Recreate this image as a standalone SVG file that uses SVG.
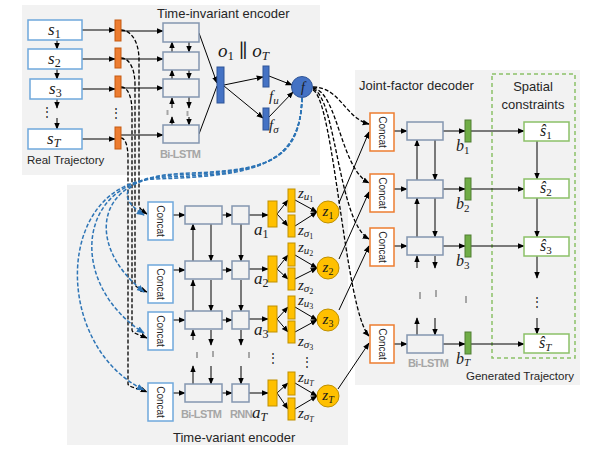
<svg xmlns="http://www.w3.org/2000/svg" width="598" height="460" viewBox="0 0 598 460">
<defs>
<style>
.panel{fill:#F2F2F2}
.t{font-family:"Liberation Sans",Arial,sans-serif;fill:#262626}
.m{font-family:"Liberation Serif","DejaVu Serif",serif;font-style:italic;fill:#1a1a1a}
.n{font-style:normal}
.lbl{font-family:"Liberation Sans",Arial,sans-serif;font-weight:bold;fill:#A6A6A6;font-size:11px;letter-spacing:-0.6px}
.sbox{fill:#fff;stroke:#6FA8DC;stroke-width:1.5}
.lstm{fill:#F2F2F2;stroke:#8496B0;stroke-width:1.5}
.cb{fill:#fff;stroke:#6FA8DC;stroke-width:1.5}
.co{fill:#fff;stroke:#ED7D31;stroke-width:1.5}
.ob{fill:#ED7D31;stroke:#C55A11}
.bb{fill:#4472C4;stroke:#2F5597}
.yb{fill:#FFC000;stroke:#BF9000}
.gb{fill:#70AD47;stroke:#507E32}
.gbox{fill:#fff;stroke:#8CC168;stroke-width:1.5}
.a{stroke:#000;stroke-width:1;fill:none;marker-end:url(#ah)}
.l{stroke:#000;stroke-width:1;fill:none}
.d{stroke:#000;stroke-width:1.3;fill:none;stroke-dasharray:4 2;marker-end:url(#ah)}
.bd{stroke:#2E75B6;stroke-width:1.5;fill:none;stroke-dasharray:4 2;marker-end:url(#ahb)}
.mk{fill:#A6A6A6}
.ct{font-family:"Liberation Sans",Arial,sans-serif;font-size:10px;fill:#262626}
</style>
<marker id="ah" viewBox="0 0 10 10" refX="9" refY="5" markerWidth="7" markerHeight="7" markerUnits="userSpaceOnUse" orient="auto"><path d="M0,1 L10,5 L0,9 z" fill="#000"/></marker>
<marker id="ahb" viewBox="0 0 10 10" refX="9" refY="5" markerWidth="8" markerHeight="8" markerUnits="userSpaceOnUse" orient="auto"><path d="M0,1 L10,5 L0,9 z" fill="#2E75B6"/></marker>
</defs>

<g id="panels">
<rect class="panel" x="22" y="5" width="298" height="170"/>
<rect class="panel" x="67" y="185" width="281" height="260"/>
<rect class="panel" x="355" y="70" width="225" height="315"/>
<rect x="492" y="74" width="83" height="284" fill="none" stroke="#8CC168" stroke-width="1.5" stroke-dasharray="4 3"/>
<text class="t" x="157" y="18" font-size="13">Time-invariant encoder</text>
<text class="t" x="27" y="164" font-size="11.5">Real Trajectory</text>
<text class="t" x="173" y="442" font-size="13">Time-variant encoder</text>
<text class="t" x="359" y="90" font-size="13">Joint-factor decoder</text>
<text class="t" x="533" y="91" font-size="13" text-anchor="middle">Spatial</text>
<text class="t" x="533" y="109" font-size="13" text-anchor="middle">constraints</text>
<text class="t" x="466" y="380" font-size="11.5">Generated Trajectory</text>
</g>

<g id="connectors">
<path class="a" d="M82,30 H115"/><path class="a" d="M82,59 H115"/><path class="a" d="M82,89 H115"/><path class="a" d="M82,139 H115"/>
<path class="a" d="M121,31 H163"/><path class="a" d="M121,59 H163"/><path class="a" d="M121,88 H163"/><path class="a" d="M121,135 H163"/>
<path class="a" d="M57,40 V49"/><path class="a" d="M57,69 V79"/><path class="a" d="M57,99 V108"/><path class="a" d="M57,118 V129"/>
<path class="a" d="M172,52 V42"/><path class="a" d="M172,79 V70"/><path class="a" d="M172,108 V98"/><path class="a" d="M172,125 V117"/>
<path class="a" d="M189,42 V52"/><path class="a" d="M189,70 V79"/><path class="a" d="M189,97 V108"/><path class="a" d="M189,117 V125"/>
<path class="a" d="M199,33 L217,83"/><path class="l" d="M199,134 L217,86"/>
<path class="a" d="M224,85 L263,77"/><path class="a" d="M224,86 L263,118"/>
<path class="a" d="M269,76 L292,85"/><path class="a" d="M269,117 L293,92"/>
<path class="d" d="M121,30 C130,30 139,40 139,60 L139,205 C139,208 141,210 147,214"/>
<path class="d" d="M121,58 C129,58 135,68 135,85 L135,284 C135,287 140,289 147,292"/>
<path class="d" d="M121,87 C128,87 132,97 132,112 L132,330 C132,333 140,335 147,338"/>
<path class="d" d="M121,138 C125,138 128,145 128,158 L128,384 C128,387 140,389 147,392"/>
<path class="bd" d="M302,98 C300,160 270,170 190,173 C125,175 112,195 144,215"/>
<path class="bd" d="M302,98 C300,162 265,172 175,175 C95,178 85,245 144,292"/>
<path class="bd" d="M302,98 C300,164 260,174 165,177 C75,181 68,285 144,333"/>
<path class="bd" d="M302,98 C300,166 255,176 155,179 C55,184 52,345 144,390"/>
<path class="d" d="M313,87 C340,87 345,118 369,124"/>
<path class="d" d="M313,88 C338,92 340,168 369,183"/>
<path class="d" d="M313,89 C336,96 338,222 369,239"/>
<path class="d" d="M313,90 C334,100 345,310 369,336"/>
<path class="a" d="M173,215 H185"/><path class="a" d="M173,270 H185"/><path class="a" d="M173,320 H185"/><path class="a" d="M173,393 H185"/>
<path class="a" d="M222,215 H232"/><path class="a" d="M222,270 H232"/><path class="a" d="M222,320 H232"/><path class="a" d="M222,393 H232"/>
<path class="a" d="M249,215 H268"/><path class="a" d="M249,269 H268"/><path class="a" d="M249,319 H268"/><path class="a" d="M249,393 H268"/>
<path class="a" d="M277,214 L288,200"/><path class="a" d="M277,214 L288,226"/>
<path class="a" d="M277,269 L288,255"/><path class="a" d="M277,269 L288,279"/>
<path class="a" d="M277,319 L288,307"/><path class="a" d="M277,319 L288,332"/>
<path class="a" d="M277,393 L288,383"/><path class="a" d="M277,393 L288,409"/>
<path class="a" d="M295,200 L317,212"/><path class="a" d="M295,226 L317,212"/>
<path class="a" d="M295,255 L317,268"/><path class="a" d="M295,279 L317,268"/>
<path class="a" d="M295,307 L317,320"/><path class="a" d="M295,332 L317,320"/>
<path class="a" d="M295,383 L317,396"/><path class="a" d="M295,409 L317,396"/>
<path class="a" d="M193,261 V224"/><path class="a" d="M193,311 V280"/><path class="a" d="M193,340 V330"/><path class="a" d="M193,384 V366"/>
<path class="a" d="M211,224 V261"/><path class="a" d="M211,280 V311"/><path class="a" d="M211,330 V345"/><path class="a" d="M211,366 V384"/>
<path class="a" d="M241,224 V261"/><path class="a" d="M241,280 V311"/><path class="a" d="M241,330 V345"/><path class="a" d="M241,366 V384"/>
<path class="a" d="M339,203 L369,132"/>
<path class="a" d="M339,259 L369,192"/>
<path class="a" d="M339,310 L369,246"/>
<path class="a" d="M338,389 L369,343"/>
<path class="a" d="M394,131 H407"/><path class="a" d="M394,189 H407"/><path class="a" d="M394,246 H407"/><path class="a" d="M394,344 H407"/>
<path class="a" d="M443,131 H465"/><path class="a" d="M443,189 H465"/><path class="a" d="M443,246 H465"/><path class="a" d="M443,344 H465"/>
<path class="a" d="M471,131 H524"/><path class="a" d="M471,189 H524"/><path class="a" d="M471,246 H524"/><path class="a" d="M471,344 H524"/>
<path class="a" d="M417,180 V140"/><path class="a" d="M417,237 V198"/><path class="a" d="M417,268 V256"/><path class="a" d="M417,335 V318"/>
<path class="a" d="M435,140 V180"/><path class="a" d="M435,198 V237"/><path class="a" d="M435,256 V268"/><path class="a" d="M435,318 V335"/>
<path class="a" d="M537,141 V179"/><path class="a" d="M537,198 V237"/><path class="a" d="M537,256 V278"/><path class="a" d="M537,318 V334"/>
</g>

<g id="gap-marks">
<rect class="mk" x="166.5" y="110" width="2" height="5"/><rect class="mk" x="186.5" y="111" width="2" height="5"/>
<rect class="mk" x="196" y="352" width="2" height="6"/><rect class="mk" x="212" y="351" width="2" height="6"/><rect class="mk" x="248" y="352" width="2" height="6"/>
<rect class="mk" x="419" y="292" width="2" height="7"/><rect class="mk" x="435" y="290" width="2" height="7"/><rect class="mk" x="465" y="296" width="2" height="7"/>
</g>

<g id="real-trajectory">
<rect class="sbox" x="28" y="20" width="54" height="20"/>
<rect class="sbox" x="28" y="49" width="54" height="20"/>
<rect class="sbox" x="30" y="79" width="52" height="20"/>
<rect class="sbox" x="28" y="129" width="54" height="20"/>
<text class="m" x="48" y="35" font-size="17">s<tspan class="n" font-size="12" dy="3">1</tspan></text>
<text class="m" x="48" y="64" font-size="17">s<tspan class="n" font-size="12" dy="3">2</tspan></text>
<text class="m" x="49" y="94" font-size="17">s<tspan class="n" font-size="12" dy="3">3</tspan></text>
<text class="m" x="47" y="144" font-size="17">s<tspan font-size="12" dy="3">T</tspan></text>
<text class="t" x="47" y="116" font-size="12" text-anchor="middle">⋮</text>
</g>

<g id="embed-bars">
<rect class="ob" x="115" y="20" width="6" height="21"/>
<rect class="ob" x="115" y="48" width="6" height="20"/>
<rect class="ob" x="115" y="76" width="6" height="21"/>
<rect class="ob" x="115" y="127" width="6" height="22"/>
<text class="t" x="116" y="117" font-size="12" text-anchor="middle">⋮</text>
</g>

<g id="ti-bilstm">
<rect class="lstm" x="163" y="23" width="36" height="19"/>
<rect class="lstm" x="163" y="52" width="36" height="18"/>
<rect class="lstm" x="163" y="79" width="36" height="18"/>
<rect class="lstm" x="163" y="125" width="36" height="18"/>
<text class="lbl" x="160" y="158">Bi-LSTM</text>
</g>

<g id="o-concat">
<rect class="bb" x="217" y="67" width="7" height="36"/>
<text class="m" x="218" y="57" font-size="19">o<tspan class="n" font-size="13" dy="3">1</tspan><tspan class="n" dy="-3"> ∥ </tspan>o<tspan font-size="13" dy="3">T</tspan></text>
</g>

<g id="f-u">
<rect class="bb" x="263" y="66" width="6" height="21"/>
<text class="m" x="269" y="101" font-size="15">f<tspan font-size="11" dy="3">u</tspan></text>
</g>
<g id="f-sigma">
<rect class="bb" x="263" y="108" width="6" height="22"/>
<text class="m" x="269" y="130" font-size="15">f<tspan font-size="11" dy="3">σ</tspan></text>
</g>
<g id="f">
<circle cx="302" cy="87" r="10.5" fill="#4472C4" stroke="#2F5597"/>
<text class="m" x="303" y="92" font-size="14" text-anchor="middle">f</text>
</g>

<g id="tv-concat">
<rect class="cb" x="148" y="202" width="25" height="38"/>
<rect class="cb" x="148" y="265" width="25" height="38"/>
<rect class="cb" x="148" y="312" width="25" height="38"/>
<rect class="cb" x="148" y="383" width="25" height="38"/>
<text class="ct" transform="translate(160.5,221) rotate(90)" text-anchor="middle" dy="3.5">Concat</text>
<text class="ct" transform="translate(160.5,284) rotate(90)" text-anchor="middle" dy="3.5">Concat</text>
<text class="ct" transform="translate(160.5,331) rotate(90)" text-anchor="middle" dy="3.5">Concat</text>
<text class="ct" transform="translate(160.5,402) rotate(90)" text-anchor="middle" dy="3.5">Concat</text>
</g>

<g id="tv-bilstm">
<rect class="lstm" x="185" y="206" width="37" height="18"/>
<rect class="lstm" x="185" y="261" width="37" height="18"/>
<rect class="lstm" x="185" y="311" width="37" height="18"/>
<rect class="lstm" x="185" y="384" width="37" height="18"/>
<text class="lbl" x="181" y="418">Bi-LSTM</text>
</g>

<g id="tv-rnn">
<rect class="lstm" x="232" y="206" width="17" height="18"/>
<rect class="lstm" x="232" y="261" width="17" height="18"/>
<rect class="lstm" x="232" y="311" width="17" height="18"/>
<rect class="lstm" x="232" y="384" width="17" height="18"/>
<text class="lbl" x="230" y="418">RNN</text>
</g>

<g id="tv-a">
<rect class="yb" x="268" y="201" width="9" height="26"/>
<rect class="yb" x="268" y="256" width="9" height="26"/>
<rect class="yb" x="268" y="306" width="9" height="26"/>
<rect class="yb" x="268" y="380" width="9" height="26"/>
<text class="m" x="254" y="235" font-size="17">a<tspan class="n" font-size="12" dy="3">1</tspan></text>
<text class="m" x="254" y="284" font-size="17">a<tspan class="n" font-size="12" dy="3">2</tspan></text>
<text class="m" x="254" y="335" font-size="17">a<tspan class="n" font-size="12" dy="3">3</tspan></text>
<text class="m" x="252" y="418" font-size="17">a<tspan font-size="12" dy="3">T</tspan></text>
<text class="t" x="273" y="362" font-size="12" text-anchor="middle">⋮</text>
</g>

<g id="tv-z-params">
<rect class="yb" x="288" y="189" width="7" height="23"/>
<rect class="yb" x="288" y="215" width="7" height="22"/>
<rect class="yb" x="288" y="243" width="7" height="23"/>
<rect class="yb" x="288" y="268" width="7" height="22"/>
<rect class="yb" x="288" y="296" width="7" height="23"/>
<rect class="yb" x="288" y="321" width="7" height="22"/>
<rect class="yb" x="288" y="372" width="7" height="23"/>
<rect class="yb" x="288" y="398" width="7" height="22"/>
<text class="m" x="298" y="198" font-size="15">z<tspan font-size="11" dy="2">u</tspan><tspan class="n" font-size="8" dy="2">1</tspan></text>
<text class="m" x="298" y="235" font-size="15">z<tspan font-size="11" dy="2">σ</tspan><tspan class="n" font-size="8" dy="2">1</tspan></text>
<text class="m" x="298" y="252" font-size="15">z<tspan font-size="11" dy="2">u</tspan><tspan class="n" font-size="8" dy="2">2</tspan></text>
<text class="m" x="298" y="290" font-size="15">z<tspan font-size="11" dy="2">σ</tspan><tspan class="n" font-size="8" dy="2">2</tspan></text>
<text class="m" x="298" y="305" font-size="15">z<tspan font-size="11" dy="2">u</tspan><tspan class="n" font-size="8" dy="2">3</tspan></text>
<text class="m" x="298" y="346" font-size="15">z<tspan font-size="11" dy="2">σ</tspan><tspan class="n" font-size="8" dy="2">3</tspan></text>
<text class="m" x="298" y="382" font-size="15">z<tspan font-size="11" dy="2">u</tspan><tspan font-size="8" dy="2">T</tspan></text>
<text class="m" x="298" y="418" font-size="15">z<tspan font-size="11" dy="2">σ</tspan><tspan font-size="8" dy="2">T</tspan></text>
<text class="t" x="307" y="366" font-size="12" text-anchor="middle">⋮</text>
</g>

<g id="tv-z">
<circle cx="328" cy="212" r="11" fill="#FFC000" stroke="#BF9000"/>
<circle cx="328" cy="268" r="11" fill="#FFC000" stroke="#BF9000"/>
<circle cx="328" cy="320" r="11" fill="#FFC000" stroke="#BF9000"/>
<circle cx="328" cy="396" r="11" fill="#FFC000" stroke="#BF9000"/>
<text class="m" x="328" y="216" font-size="15" text-anchor="middle">z<tspan class="n" font-size="10" dy="3">1</tspan></text>
<text class="m" x="328" y="272" font-size="15" text-anchor="middle">z<tspan class="n" font-size="10" dy="3">2</tspan></text>
<text class="m" x="328" y="324" font-size="15" text-anchor="middle">z<tspan class="n" font-size="10" dy="3">3</tspan></text>
<text class="m" x="328" y="400" font-size="15" text-anchor="middle">z<tspan font-size="10" dy="3">T</tspan></text>
</g>

<g id="dec-concat">
<rect class="co" x="370" y="113" width="24" height="38"/>
<rect class="co" x="370" y="174" width="24" height="38"/>
<rect class="co" x="370" y="228" width="24" height="38"/>
<rect class="co" x="370" y="325" width="24" height="38"/>
<text class="ct" transform="translate(382,132) rotate(90)" text-anchor="middle" dy="3.5">Concat</text>
<text class="ct" transform="translate(382,193) rotate(90)" text-anchor="middle" dy="3.5">Concat</text>
<text class="ct" transform="translate(382,247) rotate(90)" text-anchor="middle" dy="3.5">Concat</text>
<text class="ct" transform="translate(382,344) rotate(90)" text-anchor="middle" dy="3.5">Concat</text>
</g>

<g id="dec-bilstm">
<rect class="lstm" x="407" y="122" width="36" height="18"/>
<rect class="lstm" x="407" y="180" width="36" height="18"/>
<rect class="lstm" x="407" y="237" width="36" height="18"/>
<rect class="lstm" x="407" y="335" width="36" height="18"/>
<text class="lbl" x="408" y="367">Bi-LSTM</text>
</g>

<g id="dec-b">
<rect class="gb" x="465" y="120" width="6" height="22"/>
<rect class="gb" x="465" y="178" width="6" height="22"/>
<rect class="gb" x="465" y="235" width="6" height="22"/>
<rect class="gb" x="465" y="332" width="6" height="22"/>
<text class="m" x="456" y="151" font-size="16">b<tspan class="n" font-size="11" dy="3">1</tspan></text>
<text class="m" x="456" y="209" font-size="16">b<tspan class="n" font-size="11" dy="3">2</tspan></text>
<text class="m" x="456" y="266" font-size="16">b<tspan class="n" font-size="11" dy="3">3</tspan></text>
<text class="m" x="456" y="364" font-size="16">b<tspan font-size="11" dy="2">T</tspan></text>
</g>

<g id="generated-trajectory">
<rect class="gbox" x="524" y="122" width="45" height="19"/>
<rect class="gbox" x="524" y="179" width="45" height="19"/>
<rect class="gbox" x="524" y="237" width="45" height="19"/>
<rect class="gbox" x="524" y="334" width="45" height="19"/>
<text class="m" x="540" y="136" font-size="16">ŝ<tspan class="n" font-size="11" dy="3">1</tspan></text>
<text class="m" x="540" y="193" font-size="16">ŝ<tspan class="n" font-size="11" dy="3">2</tspan></text>
<text class="m" x="540" y="251" font-size="16">ŝ<tspan class="n" font-size="11" dy="3">3</tspan></text>
<text class="m" x="539" y="348" font-size="16">ŝ<tspan font-size="11" dy="3">T</tspan></text>
<text class="t" x="537" y="306" font-size="12" text-anchor="middle">⋮</text>
</g>
</svg>
